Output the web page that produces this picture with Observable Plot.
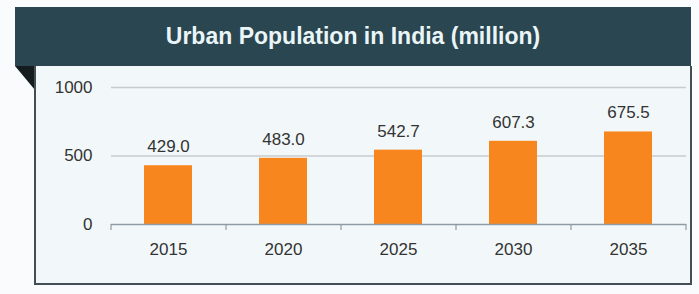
<!DOCTYPE html>
<html>
<head>
<meta charset="utf-8">
<script src="https://cdn.jsdelivr.net/npm/d3@7"></script>
<script src="https://cdn.jsdelivr.net/npm/@observablehq/plot@0.6"></script>
<style>
  html, body { margin: 0; padding: 0; background: #f9fbfc; }
  #wrap { position: relative; width: 699px; height: 294px; overflow: hidden; font-family: "Liberation Sans", Arial, sans-serif; }
  #header { position: absolute; left: 15px; top: 7px; width: 676px; height: 59px; background: #2a4650;
    color: #eaf5f8; font: bold 23px "Liberation Sans", Arial, sans-serif; display: flex; align-items: center; justify-content: center; }
  #fold { position: absolute; left: 15px; top: 66px; width: 0; height: 0; border-top: 24px solid #141c1f; border-left: 20px solid transparent; }
  #panel { position: absolute; left: 34px; top: 66px; width: 658px; height: 219px; box-sizing: border-box;
    border: 2px solid #454e52; border-top: none; background: #f2f8fa; }
  #chart { position: absolute; left: 0; top: 0; }
</style>
</head>
<body>
<div id="wrap">
  <div id="header">Urban Population in India (million)</div>
  <div id="fold"></div>
  <div id="panel"></div>
  <div id="chart"></div>
</div>
<script>
const years = ["2015", "2020", "2025", "2030", "2035"];
const population = [429.0, 483.0, 542.7, 607.3, 675.5];
const yTicks = [0, 500, 1000];

const data = years.map((y, i) => ({year: y, value: population[i]}));

const W = 699, H = 294, mL = 111, mR = 13, mT = 87, mB = 70;
const step = (W - mL - mR) / years.length;

const chart = Plot.plot({
  width: W,
  height: H,
  marginTop: mT,
  marginBottom: mB,
  marginLeft: mL,
  marginRight: mR,
  style: {background: "transparent", fontFamily: "'Liberation Sans', Arial, sans-serif"},
  x: {type: "band", domain: years, paddingInner: 0.58, paddingOuter: 0.29, label: null},
  y: {domain: [0, 1000], label: null},
  marks: [
    Plot.ruleY(yTicks.filter(d => d > 0), {stroke: "#c6ccd0", strokeWidth: 1.5}),
    Plot.barY(data, {x: "year", y: "value", fill: "#f7861e"}),
    Plot.ruleY([0], {stroke: "#8e9ba2", strokeWidth: 1.5}),
    Plot.ruleX(years, {x: d => d, y1: 0, y2: -44, dx: -step / 2, stroke: "#8e9ba2", strokeWidth: 1.2}),
    Plot.ruleX(years.slice(-1), {x: d => d, y1: 0, y2: -44, dx: step / 2, stroke: "#8e9ba2", strokeWidth: 1.2}),
    Plot.text(data, {x: "year", y: "value", text: d => d.value.toFixed(1), dy: -19, fontSize: 17, fill: "#333"}),
    Plot.axisY(yTicks, {tickSize: 0, tickPadding: 19, fontSize: 17, fill: "#333", tickFormat: d => String(d)}),
    Plot.axisX({tickSize: 0, tickPadding: 18, fontSize: 17, fill: "#333"})
  ]
});
document.getElementById("chart").appendChild(chart);
</script>
</body>
</html>
